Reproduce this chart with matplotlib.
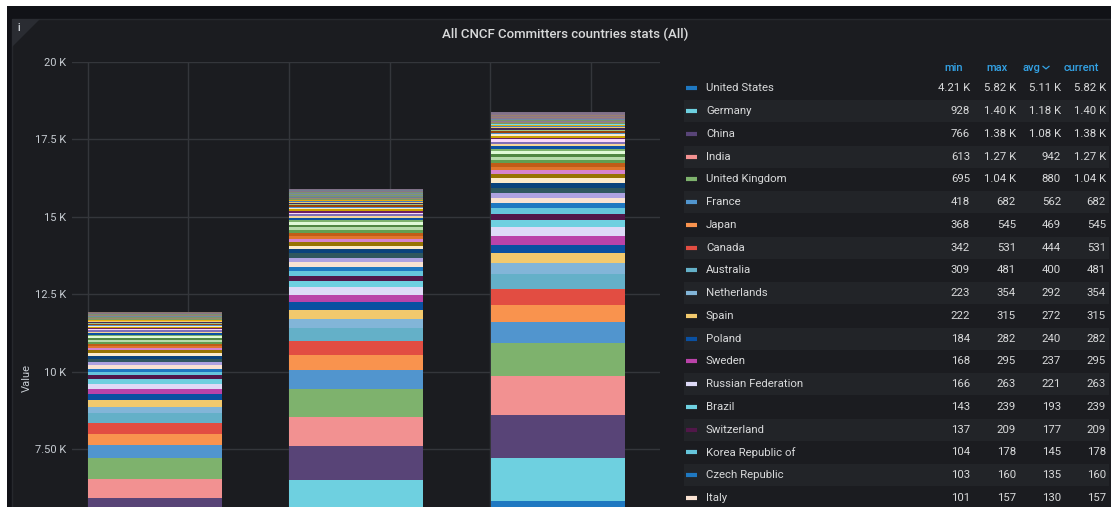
import matplotlib
matplotlib.use("Agg")
import matplotlib.pyplot as plt
from matplotlib.patches import Rectangle, Polygon

plt.rcParams['font.family'] = ['Roboto', 'DejaVu Sans']

# three bars (time points), one stacked segment per country, biggest at the bottom
countries = [
    "United States", "Germany", "China", "India", "United Kingdom", "France",
    "Japan", "Canada", "Australia", "Netherlands", "Spain", "Poland", "Sweden",
    "Russian Federation", "Brazil", "Switzerland", "Korea Republic of",
    "Czech Republic", "Italy",
    "Israel", "Ireland", "Ukraine", "Belgium", "Denmark", "Finland", "Norway",
    "Austria", "Singapore", "Taiwan", "Argentina", "Portugal", "Romania",
    "Turkey", "Mexico", "New Zealand", "Hungary", "Greece", "Vietnam",
    "South Africa", "Belarus", "Pakistan", "Bulgaria", "Hong Kong", "Colombia",
    "Chile", "Indonesia", "Philippines", "Egypt", "Thailand", "Nigeria",
    "Slovakia", "Lithuania", "Croatia", "Serbia", "Malaysia", "Estonia",
    "Slovenia", "Latvia", "Kenya", "Bangladesh", "Uruguay", "Peru", "Sri Lanka",
    "Iran", "Luxembourg", "Iceland", "Morocco", "Tunisia", "Costa Rica",
    "Venezuela", "Nepal", "Ecuador", "Cyprus", "Armenia", "Kazakhstan",
]
first = [
    4210, 928, 766, 613, 695, 418, 368, 342, 309, 223, 222, 184, 168, 166, 143,
    137, 104, 103, 101,
    112, 104, 96, 90, 84, 78, 71, 68, 65, 62, 59, 56, 53, 50, 46, 43, 41, 38,
    36, 33, 31, 29, 27, 25, 24, 22, 20, 19, 18, 17, 15, 15, 14, 14, 13, 12, 12,
    11, 11, 10, 9, 9, 8, 7, 7, 6, 6, 5, 5, 5, 4, 4, 4, 3, 3, 2,
]
middle = [
    5300, 1212, 1094, 943, 905, 586, 494, 459, 410, 299, 279, 254, 248, 234, 197,
    185, 153, 142, 132,
    152, 140, 132, 123, 115, 106, 98, 94, 89, 85, 81, 77, 72, 68, 64, 60, 56,
    53, 49, 46, 42, 40, 37, 35, 32, 30, 28, 26, 25, 23, 21, 20, 20, 19, 18, 17,
    16, 15, 14, 14, 13, 12, 11, 10, 9, 9, 8, 8, 7, 7, 6, 5, 5, 4, 4, 3,
]
last = [
    5820, 1400, 1380, 1270, 1040, 682, 545, 531, 481, 354, 315, 282, 295, 263,
    239, 209, 178, 160, 157,
    180, 165, 155, 145, 135, 125, 115, 110, 105, 100, 95, 90, 85, 80, 75, 70,
    66, 62, 58, 54, 50, 47, 44, 41, 38, 35, 33, 31, 29, 27, 25, 24, 23, 22, 21,
    20, 19, 18, 17, 16, 15, 14, 13, 12, 11, 10, 9, 9, 8, 8, 7, 6, 6, 5, 5, 4,
]
colors = [
    "#1F78C1", "#6ED0E0", "#584477", "#F29191", "#7EB26D", "#5195CE",
    "#F9934E", "#E24D42", "#64B0C8", "#82B5D8", "#F2C96D", "#0A50A1",
    "#BA43A9", "#DEDAF7", "#6ED0E0", "#511749", "#65C5DB", "#1F78C1",
    "#F9E2D2",
    "#AEA2E0", "#2F575E", "#0A437C", "#FCEACA", "#967302", "#D683CE",
    "#E0752D", "#C15C17", "#629E51", "#B7DBAB", "#508642", "#E0F9D7",
    "#7EB26D", "#0A50A1", "#F4D598", "#806EB7", "#F9D9F9", "#6D1F62",
    "#CCA300", "#FCEACA", "#5195CE", "#99440A", "#9AC48A", "#3F2B5B",
    "#F2C96D", "#447EBC", "#E5AC0E", "#70DBED", "#7a9a62", "#9c846e",
    "#6a7f96", "#8e7896", "#7c9468", "#a08068", "#6f8aa0", "#8c7490",
    "#849a66", "#9a8070", "#7488a0", "#8a7690", "#7a9270", "#98806e",
    "#74869a", "#88748a", "#7e8e6c", "#8e7a6e", "#728090", "#82728a",
    "#7c886c", "#8a786e", "#727e8c", "#807088", "#7a846c", "#86766e",
    "#727a88", "#7c6e84",
]
bar_labels = ["", "", ""]
y_ticks = [7500, 10000, 12500, 15000, 17500, 20000]
y_tick_labels = ["7.50 K", "10 K", "12.5 K", "15 K", "17.5 K", "20 K"]
legend_rows = 19
title = "All CNCF Committers countries stats (All)"

W, H = 1111, 507
page = "#111217"
panel = "#1b1c20"
text_col = "#d8d9da"
tick_col = "#c7ccd2"
grid_col = "#34363b"


def fmt(v):
    if v >= 1000:
        return f"{v / 1000:.2f} K"
    return f"{round(v)}"


fig = plt.figure(figsize=(W / 100, H / 100), dpi=100)
fig.patch.set_facecolor("white")
fig.add_artist(Rectangle((7 / W, 0), 1, 1 - 6 / H, transform=fig.transFigure,
                         facecolor=page, edgecolor="none", zorder=-10))
fig.add_artist(Rectangle((12 / W, -0.01), 1, 1 - 19 / H + 0.01, transform=fig.transFigure,
                         facecolor=panel, edgecolor="#26282d", linewidth=1, zorder=-9))
# info corner
fig.add_artist(Polygon([(12 / W, 1 - 19 / H), (40 / W, 1 - 19 / H), (12 / W, 1 - 47 / H)],
                       closed=True, transform=fig.transFigure,
                       facecolor="#2a2c32", edgecolor="none", zorder=-8))
fig.text(19 / W, 1 - 28 / H, "i", color="#c7ccd2", fontsize=7, fontweight="bold",
         ha="center", va="center")

fig.text(565 / W, 1 - 34 / H, title, color=text_col, fontsize=9.5, fontweight=500,
         ha="center", va="center")
fig.text(27 / W, 1 - 378 / H, "Value", color=tick_col, fontsize=8, rotation=90,
         ha="center", va="center")

# bar chart
ax = fig.add_axes([72 / W, 0, (660 - 72) / W, 1 - 62 / H])
ax.set_facecolor("none")
x = range(len(bar_labels))
bottoms = [0, 0, 0]
for i, name in enumerate(countries):
    vals = [first[i], middle[i], last[i]]
    ax.bar(x, vals, width=0.666, bottom=bottoms, color=colors[i],
           linewidth=0, zorder=3)
    bottoms = [b + v for b, v in zip(bottoms, vals)]

ax.set_xlim(-0.412, 2.509)
ax.set_ylim(5627, 20000)
ax.set_yticks(y_ticks, y_tick_labels)
ax.set_xticks([-1 / 3, 1 / 6, 2 / 3, 7 / 6, 5 / 3, 13 / 6], [""] * 6)
ax.grid(True, color=grid_col, linewidth=1, zorder=0)
ax.tick_params(axis="both", length=0, colors=tick_col, labelsize=8, pad=4)
for s in ax.spines.values():
    s.set_visible(False)

# legend table
lax = fig.add_axes([683 / W, 0, (W - 683) / W, 1 - 55 / H])
lax.set_xlim(683, W)
lax.set_ylim(18.4, -1.47)
lax.axis("off")

hdr_col = "#33a2e5"
for label, xr in [("min", 963), ("max", 1008), ("avg", 1040), ("current", 1099)]:
    lax.text(xr, -0.92, label, color=hdr_col, fontsize=8, fontweight=500,
             ha="right", va="center")
lax.plot([1043, 1046, 1049], [-0.97, -0.86, -0.97], color=hdr_col, lw=0.9)

for r in range(legend_rows):
    if r % 2 == 1:
        lax.add_patch(Rectangle((684, r - 0.49), 1109 - 684, 0.98,
                                facecolor="#222428", edgecolor="none"))
    lax.plot([686, 697], [r, r], color=colors[r], lw=3, solid_capstyle="butt")
    lax.text(706, r, countries[r], color=text_col, fontsize=8.2, ha="left", va="center")
    vals = [first[r], middle[r], last[r]]
    stats = [min(vals), max(vals), sum(vals) / 3, vals[-1]]
    for xr, v in zip([970, 1016, 1061, 1106], stats):
        lax.text(xr, r, fmt(v), color=text_col, fontsize=8.2, ha="right", va="center")

fig.savefig("out.png", dpi=100, facecolor=fig.get_facecolor())
